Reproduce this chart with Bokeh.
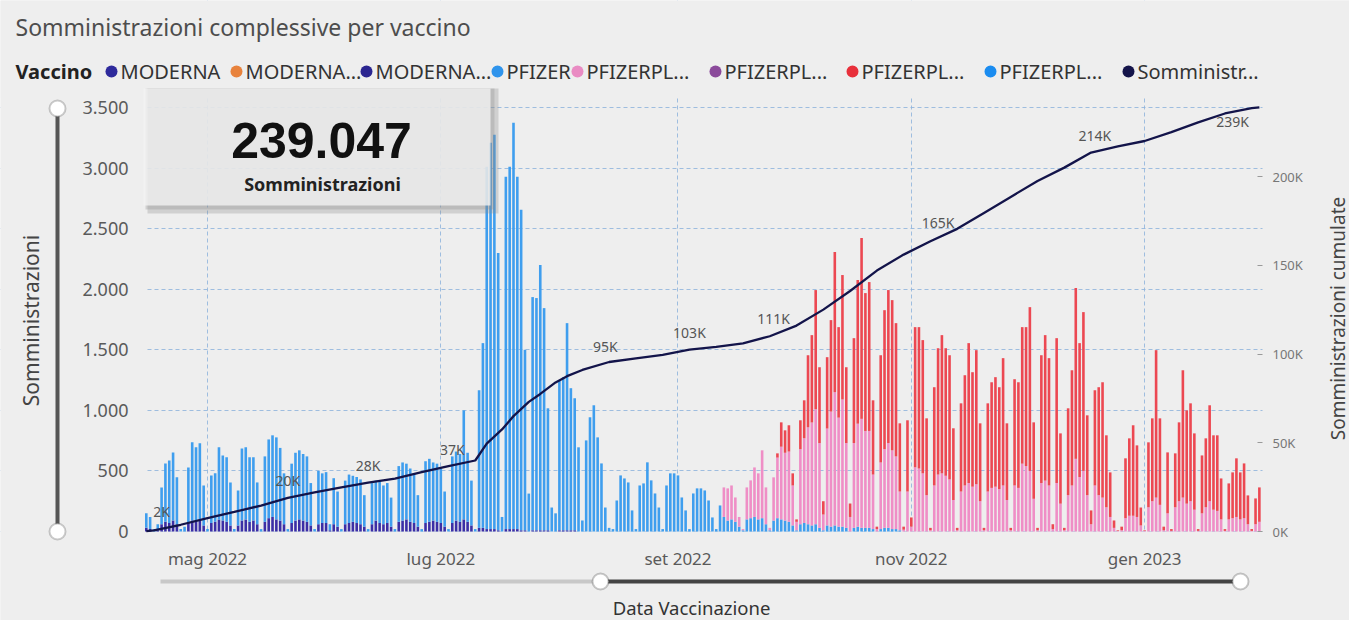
import math
import numpy as np
import pandas as pd
from bokeh.plotting import figure
from bokeh.models import (ColumnDataSource, Range1d, LinearAxis, FixedTicker,
                          CustomJSTickFormatter, BoxAnnotation, Label)
from bokeh.core.properties import value
from bokeh.embed import file_html
from bokeh.resources import INLINE

# ---------------- data (daily administrations, weekly rows Mon..Sun) ----------------
START = "2022-04-15"
END = "2023-01-31"

moderna_start = "2022-04-15"
moderna = [30, 20, 0,
           10, 60, 80, 70, 90, 60, 0,
           0, 70, 90, 80, 100, 50, 0,
           70, 80, 100, 90, 80, 50, 0,
           50, 90, 100, 80, 90, 60, 0,
           80, 110, 120, 100, 90, 60, 0,
           70, 90, 100, 90, 80, 50, 0,
           60, 70, 70, 10, 60, 40, 0,
           60, 70, 80, 70, 60, 40, 0,
           60, 90, 70, 60, 70, 40, 0,
           80, 90, 100, 80, 70, 40, 0,
           70, 80, 90, 80, 70, 40, 0,
           70, 90, 80, 100, 80, 50, 0,
           30, 30, 20, 20, 20, 10, 0,
           20, 20, 20, 20, 10, 10, 0,
           10, 10, 10, 10, 10, 0, 0,
           10, 10, 10, 10, 10, 0, 0]

pfizer_start = "2022-04-15"
pfizer = [120, 100, 20,
          50, 304, 482, 517, 563, 387, 20,
          40, 459, 646, 615, 628, 330, 20,
          393, 400, 595, 538, 532, 355, 20,
          289, 596, 595, 532, 522, 345, 20,
          540, 650, 674, 677, 600, 420, 20,
          490, 560, 570, 550, 540, 350, 20,
          440, 410, 420, 50, 380, 290, 20,
          360, 400, 380, 380, 370, 260, 20,
          340, 330, 340, 320, 330, 240, 20,
          460, 480, 460, 440, 410, 260, 20,
          510, 520, 480, 480, 450, 290, 20,
          550, 570, 560, 900, 570, 370, 20,
          1136, 1525, 2990, 3189, 3255, 2289, 120,
          2908, 2990, 3354, 2908, 2645, 1490, 313,
          1925, 1917, 2190, 1834, 1007, 198, 150,
          1239, 1264, 1710, 1173, 1090, 695, 91,
          752, 943, 1042, 777, 562, 198, 30,
          20, 256, 463, 438, 405, 174, 20,
          380, 397, 571, 422, 314, 198, 20,
          380, 480, 480, 463, 281, 174, 20,
          314, 356, 356, 339, 256, 116, 20,
          215, 120, 90, 100, 80, 40, 10,
          100, 110, 120, 100, 110, 60, 10,
          90, 110, 100, 90, 80, 50, 10,
          60, 70, 60, 50, 60, 30, 10,
          50, 40, 50, 40, 40, 30, 0,
          30, 40, 30, 30, 30, 20, 0,
          20, 30, 30, 20, 20, 10, 0]

pfizerpl_pink_start = "2022-09-12"
pfizerpl_pink = [0, 244, 266, 280, 201, 80, 10,
                 264, 312, 409, 380, 560, 304, 20,
                 357, 500, 600, 560, 580, 330, 70,
                 620, 700, 800, 850, 950, 700, 130,
                 800, 950, 1100, 900, 1050, 700, 120,
                 700, 850, 900, 800, 800, 450, 20,
                 550, 650, 700, 650, 600, 320, 15,
                 330, 40, 530, 520, 480, 300, 10,
                 380, 470, 480, 460, 430, 260, 10,
                 330, 380, 400, 370, 390, 250, 10,
                 330, 360, 370, 350, 380, 260, 10,
                 380, 360, 560, 540, 500, 270, 10,
                 400, 420, 380, 20, 400, 230, 10,
                 300, 380, 600, 450, 500, 300, 60,
                 380, 300, 280, 200, 120, 30, 5,
                 10, 110, 130, 130, 120, 50, 5,
                 200, 250, 280, 220, 10, 150, 5,
                 200, 250, 280, 230, 250, 180, 5,
                 150, 200, 250, 180, 170, 100, 5,
                 100, 110, 120, 100, 110, 60, 5,
                 60, 80]

pfizerpl_red_start = "2022-09-26"
pfizerpl_red = [0, 35, 201, 185, 217, 100, 20,
                238, 313, 595, 721, 983, 626, 110,
                589, 755, 1157, 747, 1027, 626, 111,
                866, 1186, 1493, 1138, 1229, 613, 20,
                885, 1147, 1263, 1240, 1100, 563, 25,
                588, 76, 1157, 1167, 1100, 634, 20,
                811, 1043, 1141, 1053, 1025, 592, 20,
                728, 910, 1155, 945, 1107, 643, 20,
                728, 872, 904, 841, 1051, 633, 20,
                877, 872, 1127, 1147, 1352, 631, 20,
                1055, 1201, 1051, 40, 1196, 580, 20,
                717, 951, 1410, 1105, 1311, 659, 114,
                786, 891, 952, 594, 368, 61, 5,
                30, 494, 639, 747, 591, 148, 5,
                536, 684, 1217, 714, 30, 503, 15,
                445, 651, 1051, 770, 808, 630, 15,
                478, 569, 792, 614, 624, 338, 15,
                297, 378, 484, 388, 452, 238, 15,
                213, 284]

# cumulative administrations (thousands)
cum_dates = ["2022-04-15", "2022-04-17", "2022-04-24", "2022-05-01", "2022-05-08",
             "2022-05-15", "2022-05-22", "2022-05-29", "2022-06-05", "2022-06-12",
             "2022-06-19", "2022-06-26", "2022-07-03", "2022-07-10", "2022-07-13",
             "2022-07-17", "2022-07-20", "2022-07-24", "2022-07-27", "2022-07-31",
             "2022-08-03", "2022-08-07", "2022-08-14", "2022-08-21", "2022-08-28",
             "2022-09-04", "2022-09-11", "2022-09-18", "2022-09-25", "2022-10-02",
             "2022-10-09", "2022-10-16", "2022-10-23", "2022-10-30", "2022-11-06",
             "2022-11-13", "2022-11-20", "2022-11-27", "2022-12-04", "2022-12-11",
             "2022-12-18", "2022-12-25", "2023-01-01", "2023-01-08", "2023-01-15",
             "2023-01-22", "2023-01-29", "2023-01-31"]
cum_values_k = [0.2, 0.6, 3.8, 7.5, 11.0,
                14.6, 19.0, 22.0, 24.8, 27.5,
                29.8, 33.5, 36.8, 40.0, 49.5,
                57.5, 65.0, 73.0, 77.5, 84.0,
                87.5, 91.0, 95.5, 97.5, 99.5,
                102.5, 104.0, 106.0, 110.0, 116.0,
                125.0, 135.5, 147.0, 156.0, 163.5,
                170.5, 179.5, 188.5, 197.5, 205.0,
                213.5, 217.0, 220.0, 225.0, 230.5,
                235.5, 238.5, 239.0]

label_dates = ["2022-04-19", "2022-05-22", "2022-06-12", "2022-07-04", "2022-08-13",
               "2022-09-04", "2022-09-26", "2022-11-08", "2022-12-19", "2023-01-24"]
label_values_k = [2, 20, 28, 37, 95, 103, 111, 165, 214, 239]

total_doses = 239047

legend_labels = ["MODERNA", "MODERNA...", "MODERNA...", "PFIZER", "PFIZERPL...",
                 "PFIZERPL...", "PFIZERPL...", "PFIZERPL...", "Somministr..."]
legend_colors = ["#2e2a9c", "#e8823c", "#2a2590", "#2f94ec", "#e98bc3",
                 "#8b4a9b", "#e8303b", "#1a8cf0", "#14144a"]

month_labels = ["gen", "feb", "mar", "apr", "mag", "giu", "lug", "ago", "set", "ott", "nov", "dic"]
x_tick_dates = ["2022-05-01", "2022-07-01", "2022-09-01", "2022-11-01", "2023-01-01"]
y_ticks = [0, 500, 1000, 1500, 2000, 2500, 3000, 3500]
y2_ticks = [0, 50000, 100000, 150000, 200000]

# ---------------- layout (canvas pixels, origin top-left) ----------------
W, H = 1349, 620
PLOT_L, PLOT_R, PLOT_T, PLOT_B = 145, 1262, 97, 531
ANCHOR_PX, ANCHOR_DATE, PX_PER_DAY = 207, "2022-05-01", 3.825
PX_PER_UNIT = 0.12114        # left axis
PX_PER_UNIT2 = 0.001775      # right axis
FONT = "Noto Sans"
BG = "#eeeeee"
DAY_MS = 86400000


def x_at(px):
    return pd.Timestamp(ANCHOR_DATE).value / 1e6 + (px - ANCHOR_PX) / PX_PER_DAY * DAY_MS


def y_at(py):
    return (PLOT_B - py) / PX_PER_UNIT


def y2_at(py):
    return (PLOT_B - py) / PX_PER_UNIT2


def ms(d):
    return pd.Timestamp(d).value / 1e6


dates = pd.date_range(START, END, freq="D")
n = len(dates)


def place(vals, start):
    arr = np.zeros(n)
    i0 = (pd.Timestamp(start) - dates[0]).days
    arr[i0:i0 + len(vals)] = vals
    return arr


src = ColumnDataSource(dict(
    x=dates,
    moderna=place(moderna, moderna_start),
    pfizer=place(pfizer, pfizer_start),
    pink=place(pfizerpl_pink, pfizerpl_pink_start),
    red=place(pfizerpl_red, pfizerpl_red_start),
))

p = figure(width=W, height=H, output_backend="svg", toolbar_location=None, title=None,
           x_axis_type="datetime",
           x_range=Range1d(x_at(0), x_at(W)), y_range=Range1d(y_at(H), y_at(0)),
           min_border=0)
p.extra_y_ranges = {"cum": Range1d(y2_at(H), y2_at(0))}
p.background_fill_color = BG
p.border_fill_color = BG
p.outline_line_color = None

# grid styling
for g in (p.xgrid[0], p.ygrid[0]):
    g.grid_line_color = "#8fb4dc"
    g.grid_line_alpha = 0.85
    g.grid_line_dash = "4 3"
    g.grid_line_width = 1


def box(l, r, t, b, color, alpha=1.0, radius=0, line_color=None, line_width=0,
        level="annotation"):
    p.add_layout(BoxAnnotation(left=l, right=r, top=H - t, bottom=H - b,
                               left_units="screen", right_units="screen",
                               top_units="screen", bottom_units="screen",
                               fill_color=color, fill_alpha=alpha, border_radius=int(radius),
                               line_color=line_color, line_width=line_width, level=level))


# hide grid lines outside the plotting area
box(0, W, 0, PLOT_T, BG, level="underlay")
box(0, W, PLOT_B, H, BG, level="underlay")
box(0, PLOT_L, 0, H, BG, level="underlay")
box(PLOT_R, W, 0, H, BG, level="underlay")

# bars
bar_w = 0.68 * DAY_MS
p.vbar_stack(["moderna", "pfizer", "pink", "red"], x="x", width=bar_w, source=src,
             fill_color=["#3b2fa6", "#3f9eee", "#ef8ec6", "#ec4852"], line_color=None)

# cumulative line
p.line(x=[pd.Timestamp(d) for d in cum_dates], y=[v * 1000 for v in cum_values_k],
       y_range_name="cum", line_color="#13144a", line_width=2.3)

lbl_src = ColumnDataSource(dict(
    x=[pd.Timestamp(d) for d in label_dates],
    y=[v * 1000 for v in label_values_k],
    text=[f"{v}K" for v in label_values_k],
    yoff=[-16] * (len(label_values_k) - 1) + [14],
))
p.text(x="x", y="y", text="text", source=lbl_src, y_range_name="cum", y_offset="yoff",
       text_font=value(FONT), text_font_size="14px", text_color="#555555",
       text_align="center", text_baseline="middle")

# axes (placed at the plotting-area edges)
p.xaxis.fixed_location = 0
p.xaxis.ticker = FixedTicker(ticks=[ms(d) for d in x_tick_dates])
p.xaxis.formatter = CustomJSTickFormatter(args=dict(months=month_labels), code="""
    const d = new Date(tick);
    return months[d.getUTCMonth()] + " " + d.getUTCFullYear();
""")
p.yaxis.fixed_location = x_at(PLOT_L)
p.yaxis.ticker = FixedTicker(ticks=y_ticks)
p.yaxis.formatter = CustomJSTickFormatter(code="""
    const s = Math.round(tick).toString();
    return s.length > 3 ? s.slice(0, -3) + "." + s.slice(-3) : s;
""")
for ax in (p.xaxis[0], p.yaxis[0]):
    ax.axis_line_color = None
    ax.major_tick_line_color = None
    ax.minor_tick_line_color = None
    ax.major_label_text_font = FONT
    ax.major_label_text_color = "#5a5a5a"
p.xaxis.major_label_text_font_size = "17px"
p.xaxis.major_label_standoff = 9
p.yaxis.major_label_text_font_size = "18px"
p.yaxis.major_label_standoff = 11

ax2 = LinearAxis(y_range_name="cum", ticker=FixedTicker(ticks=y2_ticks),
                 fixed_location=x_at(PLOT_R),
                 formatter=CustomJSTickFormatter(code="return (tick / 1000).toFixed(0) + 'K';"))
ax2.axis_line_color = None
ax2.major_tick_line_color = "#9a9a9a"
ax2.major_tick_in = 5
ax2.major_tick_out = 0
ax2.minor_tick_line_color = None
ax2.major_label_text_font = FONT
ax2.major_label_text_color = "#777777"
ax2.major_label_text_font_size = "13px"
ax2.major_label_standoff = 10
p.add_layout(ax2, "right")


def text_label(px, py, text, size, color="#333333", style="normal", font=FONT,
               align="left", angle=0.0):
    p.add_layout(Label(x=px, y=H - py, x_units="screen", y_units="screen", text=text,
                       text_font=font, text_font_size=size, text_color=color,
                       text_font_style=style, text_align=align, text_baseline="middle",
                       angle=angle))


# KPI card with shadow
box(147, 498, 88, 213, "#8a8a8a", 0.3)
box(145, 494, 88, 209, "#8a8a8a", 0.3)
box(143, 490, 88, 205, "#f3f3f3", 0.8)
text_label(321, 140, f"{total_doses:,}".replace(",", "."), "50px", "#111111", "bold",
           "Liberation Sans", "center")
text_label(322, 183, "Somministrazioni", "18px", "#222222", "bold", FONT, "center")

# title and legend
text_label(15, 26, "Somministrazioni complessive per vaccino", "23px", "#4d4d4d")
text_label(15, 71, "Vaccino", "20px", "#222222", "bold")
legend_x = [111, 236, 366, 497, 577, 715, 852, 990, 1128]
for cx, lab, col in zip(legend_x, legend_labels, legend_colors):
    box(cx - 6, cx + 6, 65, 77, col, 1.0, 6)
    text_label(cx + 9, 71, lab, "20px", "#333333")

# axis titles
text_label(30, 320, "Somministrazioni", "21px", "#444444", align="center", angle=math.pi / 2)
text_label(1337, 318, "Somministrazioni cumulate", "19px", "#444444", align="center",
           angle=math.pi / 2)
text_label(691, 607, "Data Vaccinazione", "18.5px", "#333333", align="center")

# range sliders (decorative)
box(55, 59, 108, 531, "#555555")
box(49, 65, 100, 116, "#ffffff", 1.0, 8, "#555555", 2)
box(49, 65, 523, 539, "#ffffff", 1.0, 8, "#555555", 2)
box(160, 600, 579, 583, "#c8c8c8")
box(600, 1240, 579, 583, "#444444")
box(592, 608, 573, 589, "#ffffff", 1.0, 8, "#444444", 2)
box(1232, 1248, 573, 589, "#ffffff", 1.0, 8, "#444444", 2)

open("out.html", "w").write(file_html(p, INLINE))
